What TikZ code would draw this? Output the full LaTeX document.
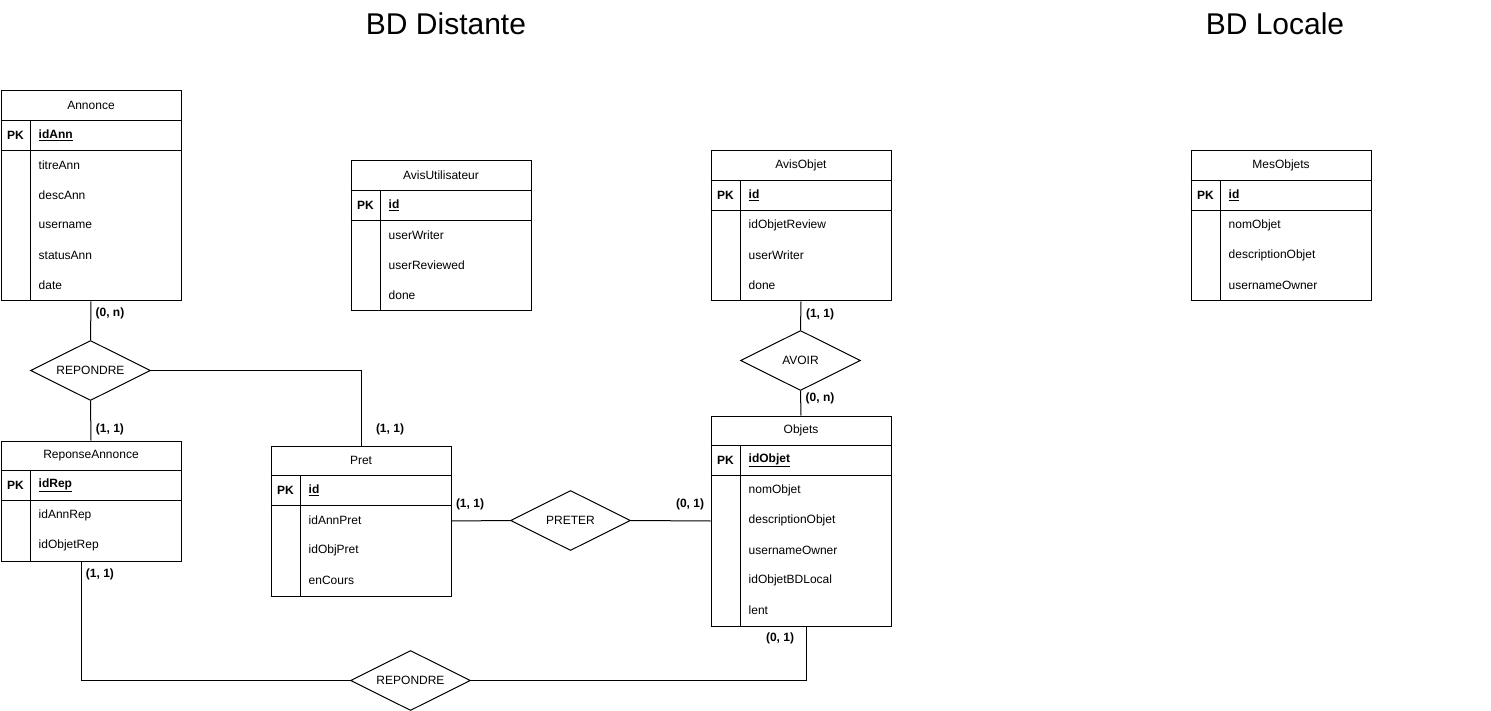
\documentclass[tikz,border=0pt]{standalone}
\usepackage{fontspec}
\setmainfont{Liberation Sans}
\usetikzlibrary{shapes.geometric,calc}
\tikzset{
  tabbox/.style={draw, line width=1pt, minimum width=180pt, inner sep=0pt, fill=white},
  hdr/.style={font=\fontsize{12}{14}\selectfont, inner sep=0pt},
  pklbl/.style={font=\fontsize{12}{14}\selectfont\bfseries, inner sep=0pt},
  attr/.style={font=\fontsize{12}{14}\selectfont, inner sep=0pt, anchor=west},
  rel/.style={draw, diamond, aspect=2, line width=1pt, minimum width=120pt, minimum height=60pt, inner sep=0pt, font=\fontsize{12}{14}\selectfont},
  card/.style={font=\fontsize{12}{14}\selectfont\bfseries, inner sep=0pt},
  link/.style={line width=1pt},
  ttl/.style={font=\fontsize{30}{34}\selectfont, inner sep=0pt}
}
% name, x, y, nrows, title, pk, attrs
\newcommand{\ERbox}[7]{%
  \pgfmathsetmacro\ERh{60+30*#4}
  \node[tabbox, minimum height=\ERh pt, anchor=north west] (#1) at (#2,#3) {};
  \node[hdr] (#1-t) at ([yshift=-15pt]#1.north) {#5};
  \draw[link] ([yshift=-30pt]#1.north west) -- ([yshift=-30pt]#1.north east);
  \draw[link] ([yshift=-60pt]#1.north west) -- ([yshift=-60pt]#1.north east);
  \draw[link] ([xshift=30pt,yshift=-30pt]#1.north west) -- ([xshift=30pt]#1.south west);
  \node[pklbl] (#1-pk) at ([xshift=15pt,yshift=-45pt]#1.north west) {PK};
  \node[pklbl, anchor=west] (#1-k) at ([xshift=38pt,yshift=-45pt]#1.north west) {\underline{#6}};
  \foreach \a [count=\i] in {#7} {
    \node[attr] (#1-a\i) at ([xshift=38pt,yshift={-45pt-30pt*\i}]#1.north west) {\a};
  }
}
\begin{document}
\begin{tikzpicture}[x=1pt,y=-1pt]
\useasboundingbox (0,0) rectangle (1491,711);
\fill[white] (0,0) rectangle (1491,711);

\node[ttl] (t1) at (446,24) {BD Distante};
\node[ttl] (t2) at (1275,24) {BD Locale};

\ERbox{annonce}{0.5}{90.5}{5}{Annonce}{idAnn}{titreAnn,descAnn,username,statusAnn,date}
\ERbox{avisutil}{350.5}{160.5}{3}{AvisUtilisateur}{id}{userWriter,userReviewed,done}
\ERbox{avisobj}{710.5}{150.5}{3}{AvisObjet}{id}{idObjetReview,userWriter,done}
\ERbox{mesobj}{1190.5}{150.5}{3}{MesObjets}{id}{nomObjet,descriptionObjet,usernameOwner}
\ERbox{repann}{0.5}{440.5}{2}{ReponseAnnonce}{idRep}{idAnnRep,idObjetRep}
\ERbox{pret}{270.5}{445.5}{3}{Pret}{id}{idAnnPret,idObjPret,enCours}
\ERbox{objets}{710.5}{415.5}{5}{Objets}{idObjet}{nomObjet,descriptionObjet,usernameOwner,idObjetBDLocal,lent}

\node[rel] (rep1) at (90.5,370.5) {REPONDRE};
\node[rel] (avoir) at (800.5,360.5) {AVOIR};
\node[rel] (preter) at (570.5,520.5) {PRETER};
\node[rel] (rep2) at (410.5,680.5) {REPONDRE};

\draw[link] (annonce.south) -- (rep1.north);
\draw[link] (rep1.south) -- (repann.north);
\draw[link] (rep1.east) -| (pret.north);
\draw[link] (pret.east) -- (preter.west);
\draw[link] (preter.east) -- (objets.west);
\draw[link] (avisobj.south) -- (avoir.north);
\draw[link] (avoir.south) -- (objets.north);
\draw[link] ([xshift=-10pt]repann.south) |- (rep2.west);
\draw[link] ([xshift=5pt]objets.south) |- (rep2.east);

\node[card] (c1) at (110,313) {(0, n)};
\node[card] (c2) at (110,429) {(1, 1)};
\node[card] (c3) at (390,429) {(1, 1)};
\node[card] (c4) at (470,504) {(1, 1)};
\node[card] (c5) at (690,504) {(0, 1)};
\node[card] (c6) at (820,314) {(1, 1)};
\node[card] (c7) at (820,398) {(0, n)};
\node[card] (c8) at (100,574) {(1, 1)};
\node[card] (c9) at (780,638) {(0, 1)};
\end{tikzpicture}
\end{document}
